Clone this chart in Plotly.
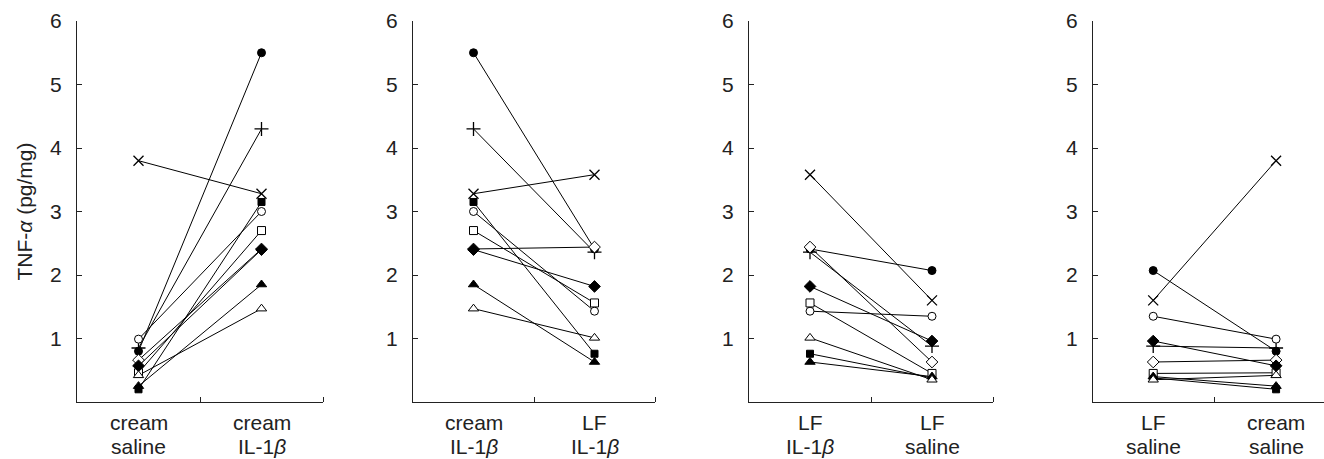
import plotly.graph_objects as go

# Conditions (two-line labels)
cond_line1 = {"cs": "cream", "ci": "cream", "li": "LF", "ls": "LF"}
cond_line2 = {"cs": "saline", "ci": "IL-1<i>β</i>", "li": "IL-1<i>β</i>", "ls": "saline"}
panels = [("cs", "ci"), ("ci", "li"), ("li", "ls"), ("ls", "cs")]

# Subjects (marker) and values per condition: TNF-alpha (pg/mg)
subjects = ["filled_circle", "plus", "cross", "filled_square", "open_circle",
            "open_square", "open_diamond", "filled_diamond", "filled_triangle", "open_triangle"]
cream_saline = [0.80, 0.85, 3.80, 0.20, 0.99, 0.46, 0.66, 0.57, 0.25, 0.42]
cream_il1b   = [5.50, 4.30, 3.28, 3.15, 3.00, 2.70, 2.41, 2.40, 1.85, 1.47]
lf_il1b      = [2.41, 2.36, 3.58, 0.76, 1.43, 1.56, 2.44, 1.82, 0.63, 1.01]
lf_saline    = [2.07, 0.88, 1.60, 0.38, 1.35, 0.45, 0.63, 0.96, 0.40, 0.35]
y_ticks = [1, 2, 3, 4, 5, 6]

values = {"cs": cream_saline, "ci": cream_il1b, "li": lf_il1b, "ls": lf_saline}

marker_styles = {
    "filled_circle":   dict(symbol="circle", size=8, color="black", line=dict(color="black", width=1)),
    "plus":            dict(symbol="cross-thin", size=10, color="black", line=dict(color="black", width=1.3)),
    "cross":           dict(symbol="x-thin", size=10, color="black", line=dict(color="black", width=1.3)),
    "filled_square":   dict(symbol="square", size=7, color="black", line=dict(color="black", width=1)),
    "open_circle":     dict(symbol="circle", size=8, color="white", line=dict(color="black", width=1)),
    "open_square":     dict(symbol="square", size=8, color="white", line=dict(color="black", width=1)),
    "open_diamond":    dict(symbol="diamond", size=9, color="white", line=dict(color="black", width=1)),
    "filled_diamond":  dict(symbol="diamond", size=9, color="black", line=dict(color="black", width=1)),
    "filled_triangle": dict(symbol="triangle-up", size=9, color="black", line=dict(color="black", width=1)),
    "open_triangle":   dict(symbol="triangle-up", size=9, color="white", line=dict(color="black", width=1)),
}

W, H = 1324, 459
TOP, BOT = 21, 402
domains = [(77, 323), (413, 655), (749, 993), (1093, 1324)]
xranges = [[-0.5, 1.5], [-0.5, 1.5], [-0.5, 1.5], [-0.49, 1.39]]

fig = go.Figure()
FONT = "Liberation Sans, Arial, sans-serif"
FS = 21
TXT = "#222"

def py(p):
    return (BOT - p) / (BOT - TOP)

for p, (a, b) in enumerate(panels):
    xa = "x" if p == 0 else f"x{p+1}"
    ya = "y" if p == 0 else f"y{p+1}"
    for i, s in enumerate(subjects):
        fig.add_trace(go.Scatter(x=[0, 1], y=[values[a][i], values[b][i]], mode="lines",
                                 line=dict(color="black", width=1), xaxis=xa, yaxis=ya,
                                 showlegend=False, hoverinfo="skip"))
    for i, s in enumerate(subjects):
        fig.add_trace(go.Scatter(x=[0, 1], y=[values[a][i], values[b][i]], mode="markers",
                                 marker=marker_styles[s], xaxis=xa, yaxis=ya,
                                 showlegend=False, name=s))

    d0, d1 = domains[p]
    xkey = "xaxis" if p == 0 else f"xaxis{p+1}"
    ykey = "yaxis" if p == 0 else f"yaxis{p+1}"
    fig.layout[xkey] = dict(
        domain=[d0 / W, d1 / W], range=xranges[p], anchor=ya, automargin=False,
        showline=True, linecolor=TXT, linewidth=1, showgrid=False, zeroline=False,
        showticklabels=False, ticks="",
        minor=dict(tickvals=[0.5, 1.5], ticks="inside", ticklen=5, tickcolor=TXT, tickwidth=1),
        fixedrange=True,
    )
    fig.layout[ykey] = dict(
        domain=[0, 1], range=[0, 6], anchor=xa, automargin=False,
        showline=True, linecolor=TXT, linewidth=1, showgrid=False, zeroline=False,
        tickvals=y_ticks, ticks="inside", ticklen=5, tickcolor=TXT,
        tickfont=dict(family=FONT, size=FS, color=TXT), ticklabelstandoff=10,
        fixedrange=True,
    )
    for xv, c in ((0, a), (1, b)):
        fig.add_annotation(text=cond_line1[c], xref=xa, yref="paper", x=xv, y=py(423),
                           xanchor="center", yanchor="middle", showarrow=False,
                           font=dict(family=FONT, size=FS, color=TXT))
        fig.add_annotation(text=cond_line2[c], xref=xa, yref="paper", x=xv, y=py(446),
                           xanchor="center", yanchor="middle", showarrow=False,
                           font=dict(family=FONT, size=FS, color=TXT))

fig.add_annotation(text="TNF-<i>α</i> (pg/mg)", xref="paper", yref="paper",
                   x=24 / W, y=0.5, xanchor="center", yanchor="middle", textangle=-90,
                   showarrow=False, font=dict(family=FONT, size=FS, color=TXT))

fig.update_layout(width=W, height=H, margin=dict(l=0, r=0, t=TOP, b=H - BOT),
                  plot_bgcolor="white", paper_bgcolor="white")

fig.write_html("out.html", config={"displayModeBar": False},
               post_script="document.body.style.margin='0';document.body.style.overflow='hidden';")
